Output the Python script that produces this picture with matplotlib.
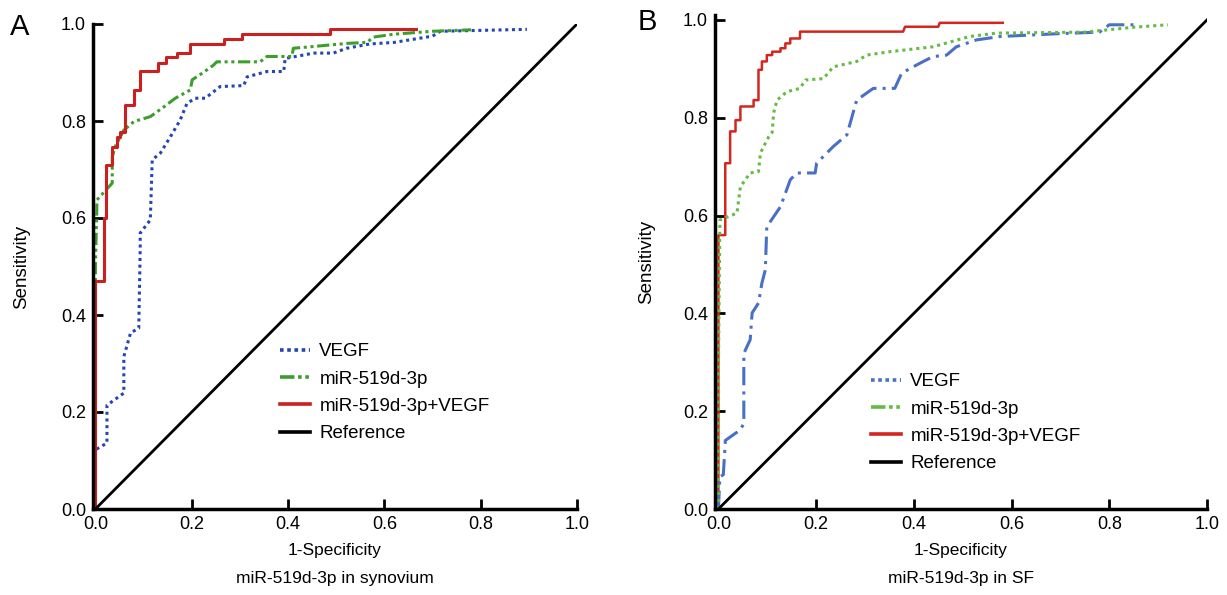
import matplotlib
matplotlib.use("Agg")
import matplotlib.pyplot as plt
from matplotlib.lines import Line2D

plt.rcParams['font.family'] = ['Liberation Sans', 'DejaVu Sans']

# ---- panel A (synovium): ROC vertices ----
a_vegf_fpr = [0, 0, 0.024, 0.024, 0.059, 0.059, 0.073, 0.090, 0.093, 0.093, 0.114, 0.118,
              0.135, 0.156, 0.176, 0.190, 0.207, 0.228, 0.259, 0.308, 0.315, 0.356, 0.391,
              0.394, 0.405, 0.453, 0.494, 0.522, 0.571, 0.62, 0.70, 0.716, 0.896]
a_vegf_tpr = [0, 0.122, 0.136, 0.214, 0.239, 0.314, 0.363, 0.373, 0.534, 0.569, 0.596, 0.72,
              0.734, 0.768, 0.802, 0.836, 0.847, 0.847, 0.871, 0.873, 0.891, 0.902, 0.902,
              0.929, 0.931, 0.940, 0.940, 0.950, 0.959, 0.962, 0.975, 0.985, 0.989]

a_mir_fpr = [0, 0, 0.003, 0.003, 0.035, 0.035, 0.041, 0.059, 0.080, 0.114, 0.142, 0.166,
             0.197, 0.201, 0.221, 0.245, 0.252, 0.342, 0.356, 0.408, 0.411, 0.446, 0.522,
             0.564, 0.577, 0.62, 0.70, 0.78]
a_mir_tpr = [0, 0.50, 0.62, 0.637, 0.672, 0.726, 0.747, 0.781, 0.799, 0.809, 0.829, 0.847,
             0.864, 0.885, 0.898, 0.915, 0.922, 0.922, 0.933, 0.933, 0.950, 0.953, 0.960,
             0.962, 0.973, 0.979, 0.985, 0.988]

a_comb_fpr = [0, 0, 0.017, 0.017, 0.023, 0.023, 0.035, 0.035, 0.044, 0.044, 0.052, 0.052,
              0.062, 0.062, 0.080, 0.080, 0.092, 0.092, 0.131, 0.131, 0.147, 0.147, 0.169,
              0.169, 0.197, 0.197, 0.266, 0.266, 0.304, 0.304, 0.488, 0.488, 0.665]
a_comb_tpr = [0, 0.47, 0.47, 0.60, 0.60, 0.71, 0.71, 0.747, 0.747, 0.768, 0.768, 0.778,
              0.778, 0.833, 0.833, 0.864, 0.864, 0.904, 0.904, 0.920, 0.920, 0.931, 0.931,
              0.941, 0.941, 0.959, 0.959, 0.970, 0.970, 0.979, 0.979, 0.989, 0.989]

# ---- panel B (SF) ----
b_vegf_fpr = [0, 0.003, 0.010, 0.014, 0.014, 0.045, 0.052, 0.052, 0.065, 0.069, 0.082, 0.089,
              0.096, 0.099, 0.127, 0.147, 0.160, 0.198, 0.201, 0.235, 0.263, 0.283, 0.317,
              0.361, 0.375, 0.406, 0.439, 0.467, 0.487, 0.528, 0.576, 0.70, 0.78, 0.80, 0.86]
b_vegf_tpr = [0, 0.066, 0.070, 0.135, 0.140, 0.162, 0.175, 0.318, 0.346, 0.401, 0.421, 0.462,
              0.489, 0.577, 0.618, 0.673, 0.687, 0.687, 0.707, 0.741, 0.765, 0.836, 0.860,
              0.860, 0.891, 0.908, 0.925, 0.928, 0.945, 0.959, 0.966, 0.972, 0.975, 0.99, 0.99]

b_mir_fpr = [0, 0, 0.003, 0.038, 0.045, 0.065, 0.082, 0.086, 0.103, 0.110, 0.113, 0.120,
             0.140, 0.167, 0.178, 0.215, 0.235, 0.283, 0.303, 0.351, 0.439, 0.514, 0.569,
             0.75, 0.85, 0.92]
b_mir_tpr = [0, 0.284, 0.591, 0.605, 0.659, 0.687, 0.690, 0.728, 0.761, 0.770, 0.810, 0.836,
             0.853, 0.860, 0.877, 0.880, 0.904, 0.915, 0.928, 0.935, 0.945, 0.966, 0.973,
             0.975, 0.985, 0.99]

b_comb_fpr = [0, 0, 0.014, 0.014, 0.024, 0.024, 0.035, 0.035, 0.045, 0.045, 0.072, 0.072,
              0.082, 0.082, 0.089, 0.089, 0.099, 0.099, 0.110, 0.110, 0.127, 0.127, 0.137,
              0.137, 0.147, 0.147, 0.167, 0.167, 0.378, 0.382, 0.450, 0.453, 0.582]
b_comb_tpr = [0, 0.56, 0.56, 0.707, 0.707, 0.772, 0.772, 0.795, 0.795, 0.823, 0.823, 0.836,
              0.836, 0.898, 0.898, 0.915, 0.915, 0.928, 0.928, 0.935, 0.935, 0.942, 0.942,
              0.952, 0.952, 0.962, 0.962, 0.976, 0.976, 0.986, 0.986, 0.994, 0.994]

ref_line = [0, 1]
ticks = [0.0, 0.2, 0.4, 0.6, 0.8, 1.0]
labels = ['VEGF', 'miR-519d-3p', 'miR-519d-3p+VEGF', 'Reference']

fig = plt.figure(figsize=(12.27, 5.95), dpi=100)
axA = fig.add_axes([93/1227, 86/595, 484/1227, 485/595])
axB = fig.add_axes([715/1227, 86/595, 492/1227, 494/595])


def style(ax, ylim_top):
    ax.set_xlim(-0.005, 1.0)
    ax.set_ylim(0, ylim_top)
    ax.set_xticks(ticks)
    ax.set_yticks(ticks)
    ax.set_xticklabels(['%.1f' % t for t in ticks])
    ax.set_yticklabels(['%.1f' % t for t in ticks])
    for s in ('top', 'right'):
        ax.spines[s].set_visible(False)
    for s in ('left', 'bottom'):
        ax.spines[s].set_linewidth(2.5)
    ax.tick_params(direction='in', length=7, width=2, labelsize=13, pad=5)
    ax.set_ylabel('Sensitivity', fontsize=13.5)


# panel A
axA.plot(a_vegf_fpr, a_vegf_tpr, color='#2446b0', lw=2.2, ls=(0, (1, 1.2)))
axA.plot(a_mir_fpr, a_mir_tpr, color='#3d9e2e', lw=2.2, ls=(0, (4, 1.2, 1, 1.2, 1, 1.2)))
axA.plot(a_comb_fpr, a_comb_tpr, color='#cc1f1f', lw=2.2)
axA.plot(ref_line, ref_line, color='black', lw=2.0)
style(axA, 1.0)
axA.set_xlabel('1-Specificity\nmiR-519d-3p in synovium', fontsize=12.5, linespacing=2.05)
axA.xaxis.set_label_coords(0.5, -0.07)
axA.yaxis.set_label_coords(-0.13, 0.5)
handlesA = [Line2D([], [], color='#2446b0', lw=2.6, ls=(0, (1, 1))),
            Line2D([], [], color='#3d9e2e', lw=2.6, ls=(0, (4, 1, 1, 1, 1, 1))),
            Line2D([], [], color='#cc1f1f', lw=2.6),
            Line2D([], [], color='black', lw=2.6)]
axA.legend(handlesA, labels, loc='upper left', bbox_to_anchor=(280/1227, 1 - 343/595),
           bbox_transform=fig.transFigure, frameon=False, fontsize=13.5,
           handlelength=1.6, handletextpad=0.5, labelspacing=0.55, borderpad=0, borderaxespad=0)

# panel B (combined curve drawn first so the others sit on top of it along the axis)
axB.plot(b_comb_fpr, b_comb_tpr, color='#d2261e', lw=1.8)
axB.plot(b_vegf_fpr, b_vegf_tpr, color='#4a70c6', lw=2.2, ls=(0, (6, 2, 1, 2)))
axB.plot(b_mir_fpr, b_mir_tpr, color='#66bb44', lw=2.2, ls=(0, (1, 1.3)))
axB.plot(ref_line, ref_line, color='black', lw=2.0)
style(axB, 1.01)
axB.set_xlim(-0.007, 1.0)
axB.set_xlabel('1-Specificity\nmiR-519d-3p in SF', fontsize=12.5, linespacing=2.05)
axB.xaxis.set_label_coords(0.5, -0.069)
axB.yaxis.set_label_coords(-0.122, 0.5)
handlesB = [Line2D([], [], color='#4a70c6', lw=2.6, ls=(0, (1, 1))),
            Line2D([], [], color='#66bb44', lw=2.6, ls=(0, (4, 1, 1, 1, 1, 1))),
            Line2D([], [], color='#d2261e', lw=2.6),
            Line2D([], [], color='black', lw=2.6)]
axB.legend(handlesB, labels, loc='upper left', bbox_to_anchor=(871/1227, 1 - 373/595),
           bbox_transform=fig.transFigure, frameon=False, fontsize=13.5,
           handlelength=1.6, handletextpad=0.5, labelspacing=0.55, borderpad=0, borderaxespad=0)

fig.text(20/1227, 1 - 27/595, 'A', fontsize=21, ha='center', va='center')
fig.text(647/1227, 1 - 22/595, 'B', fontsize=21, ha='center', va='center')

fig.savefig('out.png', dpi=100)
